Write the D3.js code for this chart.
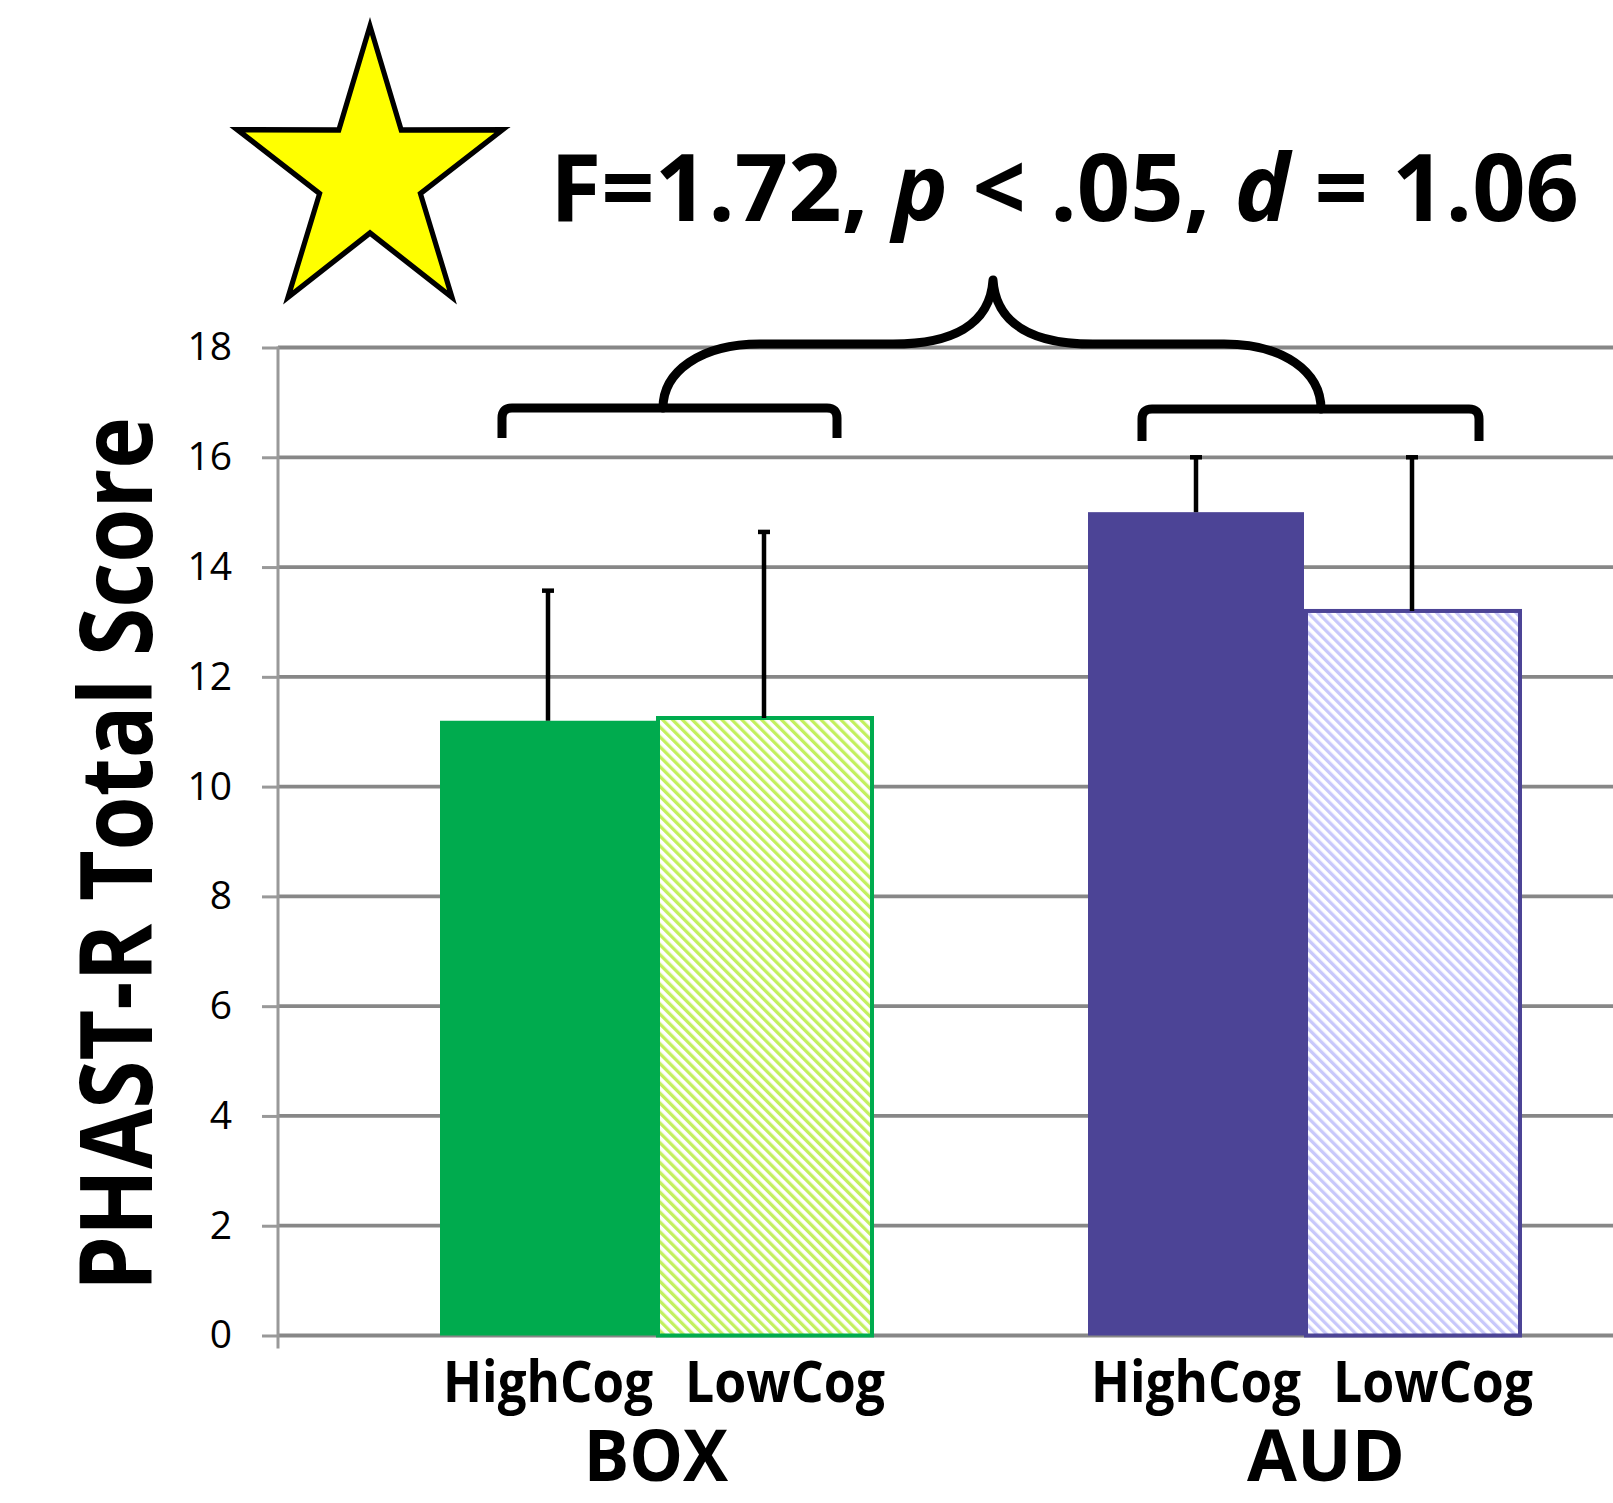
<!DOCTYPE html>
<html>
<head>
<meta charset="utf-8">
<script src="https://cdn.jsdelivr.net/npm/d3@7"></script>
<style>
  html, body { margin: 0; padding: 0; background: #fff; }
  svg { display: block; font-family: "Open Sans", "Noto Sans", sans-serif; }
</style>
</head>
<body>
<div id="chart"></div>
<script>
// data
const groups = ["BOX", "AUD"];
const levels = ["HighCog", "LowCog"];
const boxMeans = [11.2, 11.25];
const boxErrors = [2.37, 3.39];
const audMeans = [15.0, 13.2];
const audErrors = [1.0, 2.8];
const yTicks = [0, 2, 4, 6, 8, 10, 12, 14, 16, 18];
const statText = ["F=1.72, ", "p", " < .05, ", "d", " = 1.06"];

const width = 1613, height = 1503;

const svg = d3.select("#chart").append("svg")
    .attr("width", width)
    .attr("height", height);

// scales (plot runs past the right edge, like the original crop)
const x0 = d3.scaleBand().domain(groups).range([278, 1682])
    .paddingInner(1 / 3).paddingOuter(0.25);
const x1 = d3.scaleBand().domain(levels).range([0, x0.bandwidth()]);
const y = d3.scaleLinear().domain([0, 18]).range([1335.5, 347.5]);

const colors = {
    BOX: { solid: "#00ab4e", hatch: "#c3f05e" },
    AUD: { solid: "#4c4496", hatch: "#c8c8fb" }
};

// hatch patterns
const defs = svg.append("defs");
groups.forEach(g => {
    const p = defs.append("pattern")
        .attr("id", "hatch-" + g)
        .attr("patternUnits", "userSpaceOnUse")
        .attr("width", 7).attr("height", 7)
        .attr("patternTransform", "rotate(-45)");
    p.append("rect").attr("width", 7).attr("height", 7).attr("fill", "#fff");
    p.append("rect").attr("width", 3.3).attr("height", 7).attr("fill", colors[g].hatch);
});

// gridlines
svg.append("g").selectAll("line")
    .data(yTicks)
    .join("line")
    .attr("x1", 278).attr("x2", width)
    .attr("y1", d => y(d)).attr("y2", d => y(d))
    .attr("stroke", "#878787")
    .attr("stroke-width", 3.8);

// y axis
const yAxis = svg.append("g")
    .attr("transform", "translate(278,0)")
    .call(d3.axisLeft(y).tickValues(yTicks).tickSize(16).tickPadding(30));
yAxis.select(".domain").remove();
yAxis.selectAll(".tick line").attr("stroke", "#999").attr("stroke-width", 3);
yAxis.selectAll(".tick text")
    .attr("fill", "#000")
    .style("font-family", "'Open Sans', sans-serif")
    .style("font-size", "39px");
svg.append("line")
    .attr("x1", 278).attr("x2", 278)
    .attr("y1", y(18) - 1).attr("y2", y(0) + 13)
    .attr("stroke", "#999").attr("stroke-width", 3);

// bars
const rows = [];
groups.forEach((g, gi) => {
    const means = gi === 0 ? boxMeans : audMeans;
    const errs = gi === 0 ? boxErrors : audErrors;
    levels.forEach((l, li) => rows.push({ group: g, level: l, value: means[li], err: errs[li] }));
});

const barG = svg.append("g");
barG.selectAll("rect")
    .data(rows)
    .join("rect")
    .attr("x", d => x0(d.group) + x1(d.level) + (d.level === "LowCog" ? 2 : 0))
    .attr("width", d => x1.bandwidth() - (d.level === "LowCog" ? 2 : 0))
    .attr("y", d => y(d.value))
    .attr("height", d => y(0) - y(d.value))
    .attr("fill", d => d.level === "HighCog" ? colors[d.group].solid : `url(#hatch-${d.group})`)
    .attr("stroke", d => d.level === "LowCog" ? colors[d.group].solid : "none")
    .attr("stroke-width", 4);

// error bars (upper only)
const cx = d => x0(d.group) + x1(d.level) + x1.bandwidth() / 2;
const errG = svg.append("g").attr("stroke", "#000").attr("stroke-width", 4.5);
errG.selectAll("line.stem")
    .data(rows)
    .join("line")
    .attr("class", "stem")
    .attr("x1", cx).attr("x2", cx)
    .attr("y1", d => y(d.value)).attr("y2", d => y(d.value + d.err));
errG.selectAll("line.cap")
    .data(rows)
    .join("line")
    .attr("class", "cap")
    .attr("x1", d => cx(d) - 6).attr("x2", d => cx(d) + 6)
    .attr("y1", d => y(d.value + d.err)).attr("y2", d => y(d.value + d.err));

// text helper: squeeze the glyphs to the measured width
function fitText(parent, tx, ty, rot, anchor, size, targetW) {
    const g = parent.append("g").attr("transform", `translate(${tx},${ty}) rotate(${rot})`);
    const t = g.append("text")
        .attr("text-anchor", anchor)
        .attr("fill", "#000")
        .style("font-size", size + "px")
        .style("font-weight", "bold");
    return { t, fit: () => {
        const w = t.node().getBBox().width;
        t.attr("transform", `scale(${targetW / w},1)`);
    } };
}

// category labels
const lvlWidth = { HighCog: 210, LowCog: 200 };
rows.forEach(d => {
    const shift = d.level === "LowCog" ? 21 : 0;
    const lab = fitText(svg, cx(d) + shift, 1402, 0, "middle", 57, lvlWidth[d.level]);
    lab.t.text(d.level);
    lab.fit();
});
const grpShift = [0, 22], grpWidth = [145, 158];
groups.forEach((g, i) => {
    const lab = fitText(svg, x0(g) + x0.bandwidth() / 2 + grpShift[i], 1481, 0, "middle", 71, grpWidth[i]);
    lab.t.text(g);
    lab.fit();
});

// y axis title
const yt = fitText(svg, 152, 854, -90, "middle", 101, 874);
yt.t.text("PHAST-R Total Score");
yt.fit();

// stats title
const st = fitText(svg, 550, 221, 0, "start", 94, 1029);
st.t.selectAll("tspan")
    .data(statText)
    .join("tspan")
    .style("font-style", (d, i) => i === 1 || i === 3 ? "italic" : "normal")
    .text(d => d);
st.fit();

// braces
const brace = svg.append("g")
    .attr("fill", "none")
    .attr("stroke", "#000")
    .attr("stroke-width", 9)
    .attr("stroke-linejoin", "round");
brace.append("path").attr("d", "M502,438 V418 Q502,408 512,408 H827 Q837,408 837,418 V438");
brace.append("path").attr("d", "M1142,441 V419 Q1142,409 1152,409 H1469 Q1479,409 1479,419 V441");
brace.append("path")
    .attr("stroke-linecap", "round")
    .attr("d", "M663,408 C663,372 700,344 760,344 H893 C950,344 990,326 993,280 " +
               "C996,326 1036,344 1093,344 H1224 C1284,344 1321,372 1321,409");

// star
const R = 150, r = 57;
const starPts = d3.range(10).map(i => {
    const a = (-90 + 36 * i) * Math.PI / 180;
    const rad = i % 2 === 0 ? R : r;
    return [Math.cos(a) * rad, Math.sin(a) * rad];
});
svg.append("path")
    .attr("transform", "translate(370,176) scale(0.93,1)")
    .attr("d", d3.line()(starPts) + "Z")
    .attr("fill", "#ffff00")
    .attr("stroke", "#000")
    .attr("stroke-width", 5.5)
    .attr("stroke-linejoin", "miter");
</script>
</body>
</html>
